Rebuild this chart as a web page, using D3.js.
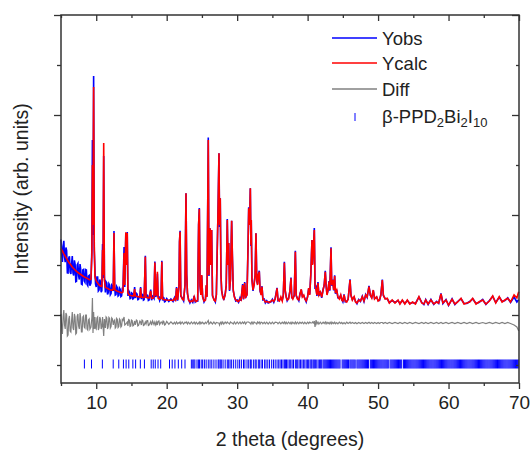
<!DOCTYPE html>
<html>
<head>
<meta charset="utf-8">
<script src="https://cdn.jsdelivr.net/npm/d3@7"></script>
<style>
  body { margin: 0; background: #fff; }
  text { font-family: Arial, "Liberation Sans", sans-serif; fill: #222; }
</style>
</head>
<body>
<div id="chart"></div>
<script>
// Rietveld profile, rows are [2theta, Ycalc, Yobs - Ycalc]
const lowAngle = [
  [5.0, 665, 90], [5.1, 652, -40], [5.2, 640, -110], [5.3, 626, 60], [5.4, 612, 130],
  [5.5, 600, -20], [5.6, 588, -60], [5.7, 575, 100], [5.8, 563, 80], [5.9, 551, -130],
  [6.0, 540, -120], [6.1, 529, 40], [6.2, 518, 70], [6.3, 509, -80], [6.4, 500, -90],
  [6.5, 490, 20], [6.6, 480, 110], [6.7, 472, -50], [6.8, 465, -70], [6.9, 457, 90],
  [7.0, 450, 60], [7.1, 443, -110], [7.2, 437, -100], [7.3, 431, 70], [7.4, 425, 90],
  [7.5, 420, -30], [7.6, 415, -60], [7.7, 410, 100], [7.8, 405, 50], [7.9, 400, -90],
  [8.0, 395, -90], [8.1, 390, 60], [8.2, 385, 70], [8.3, 381, -40], [8.4, 378, -50],
  [8.5, 374, 80], [8.6, 370, 80], [8.7, 366, -60], [8.8, 363, -70], [8.9, 359, 30],
  [9.0, 355, 40], [9.1, 352, -60], [9.25, 360, -40], [9.38, 600, 50], [9.46, 1500, 250],
  [9.54, 900, -100], [9.63, 2280, 110], [9.72, 700, -60], [9.82, 380, 60], [9.9, 360, -50],
  [10.0, 340, -60], [10.1, 330, 50], [10.2, 320, 60], [10.3, 310, -70], [10.4, 300, -50],
  [10.5, 295, 60], [10.6, 290, 40], [10.7, 287, -60], [10.8, 285, -40], [10.9, 650, 60],
  [10.97, 400, -30], [11.06, 1720, -130], [11.16, 350, 40], [11.3, 275, -50], [11.4, 272, 60],
  [11.5, 270, 50], [11.6, 266, -60], [11.7, 262, -40], [11.8, 258, 55], [11.9, 255, 45],
  [12.0, 252, -50], [12.1, 250, -35], [12.2, 249, 50], [12.3, 248, 40], [12.42, 260, -20],
  [12.52, 820, 20], [12.62, 255, 30], [12.7, 250, -50], [12.8, 245, -40], [12.9, 241, 45],
  [13.0, 238, 35], [13.1, 235, -45], [13.2, 232, -35], [13.3, 230, 40], [13.4, 228, 30],
  [13.5, 225, -40], [13.6, 222, -30], [13.7, 226, 35], [13.8, 230, 25], [13.95, 620, 60],
  [14.05, 300, -20], [14.2, 827, -10], [14.3, 500, 0], [14.4, 820, 10], [14.5, 220, -30],
  [14.6, 210, 35], [14.7, 200, 30], [14.8, 198, -35], [14.9, 195, -30], [15.0, 193, 30],
  [15.1, 192, 25], [15.2, 191, -30], [15.3, 190, -25], [15.45, 260, 20], [15.55, 190, -20],
  [15.7, 187, 30], [15.8, 185, 25], [15.9, 184, -30], [16.0, 182, -25], [16.2, 178, 20],
  [16.3, 270, 10], [16.4, 178, -20], [16.5, 177, 30], [16.6, 176, 25], [16.7, 175, -25],
  [16.8, 175, -20], [16.97, 583, 10], [17.07, 180, -10], [17.2, 174, 25], [17.3, 172, 25],
  [17.4, 171, -25], [17.5, 170, -20], [17.73, 240, 15], [17.85, 168, -20], [18.0, 166, 20],
  [18.2, 180, -15], [18.32, 525, 10], [18.45, 200, -20], [18.58, 200, 10], [18.68, 433, -20],
  [18.78, 170, 15], [18.9, 163, 20], [19.0, 160, -15], [19.2, 170, 10], [19.31, 533, 10],
  [19.42, 160, -15], [19.5, 157, 20], [19.6, 155, 15], [19.7, 153, -20], [19.8, 152, -15]
];

const midAngle = [
  [20.0, 150, 15], [20.3, 148, -12], [20.6, 148, 12], [20.9, 145, -10], [21.1, 165, 8],
  [21.25, 150, -10], [21.4, 270, 10], [21.55, 150, -8], [21.75, 300, 5], [21.82, 733, 0],
  [21.9, 833, 10], [22.0, 200, -10], [22.2, 160, 10], [22.4, 150, -10], [22.6, 300, 8],
  [22.74, 1217, 0], [22.84, 400, 10], [22.95, 220, -10], [23.1, 150, 8], [23.3, 130, -10],
  [23.5, 140, 10], [23.7, 135, -8], [23.9, 180, 10], [24.05, 140, -10], [24.2, 135, 8],
  [24.4, 150, -10], [24.53, 900, 0], [24.63, 1060, 10], [24.73, 300, -10], [24.85, 200, 8],
  [24.97, 400, -5], [25.1, 180, 8], [25.3, 140, -10], [25.5, 150, 8], [25.62, 300, -5],
  [25.72, 180, 5], [25.9, 1750, 25], [26.0, 400, -10], [26.15, 867, 0], [26.25, 500, 10],
  [26.38, 850, 0], [26.5, 200, -10], [26.7, 150, 10], [26.9, 140, -10], [27.05, 200, 5],
  [27.3, 1100, 0], [27.42, 1617, 0], [27.5, 900, -20], [27.6, 1167, 0], [27.7, 400, 10],
  [27.8, 250, -10], [27.95, 180, 10], [28.1, 160, -10], [28.3, 200, 10], [28.45, 300, -5],
  [28.6, 950, 10], [28.7, 500, 0], [28.8, 720, 0], [28.92, 250, -10], [29.05, 350, 10],
  [29.22, 943, 0], [29.32, 600, 0], [29.45, 250, -10], [29.6, 180, 10], [29.8, 150, -10],
  [30.0, 140, 10], [30.2, 135, -8], [30.4, 160, 10], [30.55, 150, -8], [30.78, 300, 10],
  [30.9, 160, -5], [31.07, 320, 10], [31.2, 180, -10], [31.4, 200, 10], [31.55, 700, 10],
  [31.64, 1067, 10], [31.76, 900, 0], [31.87, 1267, 0], [31.95, 700, -10], [32.0, 950, 0],
  [32.1, 350, 10], [32.25, 250, -10], [32.4, 300, 10], [32.55, 400, 0], [32.67, 817, 0],
  [32.78, 350, -10], [32.9, 300, 10], [33.0, 400, 0], [33.14, 433, 10], [33.25, 250, -10],
  [33.4, 200, 8], [33.53, 283, 5], [33.65, 160, -8], [33.85, 150, 8], [34.0, 130, -8],
  [34.2, 135, 8], [34.4, 130, -10], [34.6, 125, 8], [34.8, 140, -8], [35.0, 150, 8],
  [35.2, 135, -8], [35.4, 160, 8], [35.66, 267, 5], [35.8, 150, -8], [36.0, 140, 8],
  [36.2, 180, -8], [36.4, 140, 8], [36.55, 200, -5], [36.7, 523, 10], [36.82, 250, -8],
  [36.95, 180, 8], [37.1, 150, -8], [37.3, 160, 8], [37.5, 250, -8], [37.64, 367, 8],
  [37.75, 180, -8], [37.9, 160, 8], [38.1, 200, -8], [38.26, 633, 10], [38.38, 200, -8],
  [38.55, 160, 8], [38.75, 150, -8], [38.9, 200, 8], [39.1, 257, -5], [39.25, 180, 8],
  [39.45, 200, -8], [39.6, 160, 8], [39.8, 140, -8], [40.0, 180, 8], [40.15, 270, -5],
  [40.3, 200, 8], [40.45, 400, 0], [40.62, 750, 0], [40.7, 500, 10], [40.84, 700, 0],
  [40.95, 850, 20], [41.05, 300, -40], [41.2, 250, 30], [41.32, 200, -10], [41.47, 320, 10],
  [41.6, 200, -10], [41.8, 230, 8], [42.0, 180, -8], [42.2, 250, 8], [42.35, 300, -5],
  [42.51, 433, 10], [42.62, 300, -8], [42.75, 200, 8], [42.9, 250, -5], [43.04, 333, 5],
  [43.15, 250, -8], [43.32, 667, 10], [43.42, 300, -8], [43.56, 350, 5], [43.7, 250, -5]
];

const highAngle = [
  [43.84, 390, 8], [43.95, 220, -8], [44.13, 250, 5], [44.3, 180, -8], [44.5, 160, 8],
  [44.7, 200, -5], [44.85, 150, 5], [45.0, 140, -8], [45.17, 200, 5], [45.35, 140, -8],
  [45.55, 130, 8], [45.75, 160, -5], [46.02, 350, 8], [46.15, 200, -5], [46.35, 150, 5],
  [46.6, 183, -5], [46.8, 130, 5], [47.0, 120, -8], [47.25, 150, 5], [47.5, 140, -5],
  [47.76, 183, 5], [48.0, 140, -5], [48.24, 200, 5], [48.45, 180, -5], [48.71, 283, 8],
  [48.9, 200, -5], [49.1, 170, 5], [49.32, 250, -5], [49.5, 160, 5], [49.8, 183, -5],
  [50.0, 140, 5], [50.2, 150, -5], [50.4, 200, 5], [50.6, 350, 5], [50.75, 200, -5],
  [51.0, 160, 5], [51.3, 167, -5], [51.6, 120, 5], [52.0, 150, -5], [52.4, 120, 5],
  [52.83, 150, -5], [53.1, 110, 5], [53.44, 150, -5], [53.8, 110, 5], [54.15, 150, -5],
  [54.5, 110, 5], [54.9, 130, -5], [55.3, 110, 5], [55.8, 183, -5], [56.2, 120, 5],
  [56.5, 110, -5], [56.76, 150, 5], [57.1, 110, -5], [57.5, 150, 5], [57.9, 110, -5],
  [58.3, 130, 5], [58.6, 120, -5], [58.93, 210, 5], [59.2, 120, -5], [59.64, 150, 5],
  [60.0, 100, -5], [60.5, 157, 5], [60.9, 110, -5], [61.3, 130, 5], [61.77, 167, -5],
  [62.2, 110, 5], [62.6, 120, -5], [63.0, 130, 5], [63.43, 167, -5], [63.9, 110, 5],
  [64.3, 130, -5], [64.85, 150, 5], [65.3, 110, -5], [65.8, 140, 5], [66.27, 190, -5],
  [66.7, 120, 5], [67.2, 183, -5], [67.6, 130, 5], [68.0, 150, -5], [68.4, 167, 5],
  [68.8, 130, -5], [69.3, 200, -20], [69.7, 170, -40], [69.96, 233, -80]
];

// Bragg reflection positions (2theta)
const braggLow = [8.32, 9.33, 10.87, 12.41, 13.2, 13.86, 14.24, 14.62, 15.2, 15.59, 16.26, 16.84,
  17.8, 18.09, 18.38, 18.77, 19.15, 20.4, 20.78, 21.17, 21.65, 22.13, 22.6];
const braggMid = [23.5, 23.7, 23.85, 24.0, 24.3, 24.5, 24.65, 24.9, 25.1, 25.35, 25.6, 25.9, 26.15,
  26.4, 26.7, 27.0, 27.3, 27.42, 27.6, 27.75, 28.0, 28.3, 28.6, 28.8, 29.0, 29.22, 29.5, 29.8, 30.1,
  30.35, 30.6, 30.9, 31.1, 31.4, 31.64, 31.87, 32.0, 32.3, 32.55, 32.7, 33.0, 33.15, 33.4, 33.6, 33.9,
  34.1, 34.35, 34.6, 34.9, 35.15, 35.4, 35.66, 35.9, 36.1, 36.3, 36.5, 36.7, 36.85, 37.0, 37.2, 37.4,
  37.6, 37.8, 38.0, 38.26, 38.45, 38.6, 38.8, 39.0, 39.2, 39.4, 39.6, 39.8, 40.0, 40.15, 40.35, 40.5,
  40.62, 40.8, 40.95, 41.1, 41.3, 41.5, 41.7, 41.85, 42.0, 42.2, 42.35, 42.5, 42.65, 42.8, 42.95, 43.1,
  43.25, 43.4, 43.55];
const braggHigh = [43.7, 43.85, 44.0, 44.15, 44.3, 44.45, 44.6, 44.9, 45.05, 45.2, 45.35, 45.5, 45.65,
  45.8, 46.0, 46.15, 46.3, 46.45, 46.6, 46.75, 47.0, 47.15, 47.3, 47.45, 47.6, 47.75, 47.9, 48.05, 48.2,
  48.35, 48.5, 48.65, 48.9, 49.05, 49.2, 49.35, 49.5, 49.65, 49.8, 49.95, 50.1, 50.25, 50.4, 50.55, 50.7,
  50.85, 51.0, 51.15, 51.3, 51.45, 51.7, 51.85, 52.0, 52.15, 52.3, 52.45, 52.6, 52.75, 52.9, 53.05, 53.2,
  53.35, 53.6, 53.75, 53.9, 54.05, 54.2, 54.35, 54.5, 54.65, 54.8, 54.95, 55.1, 55.25, 55.4, 55.55, 55.7,
  55.85, 56.0, 56.15, 56.3, 56.45, 56.6, 56.75, 56.9, 57.05, 57.2, 57.35, 57.5, 57.65, 57.8, 57.95, 58.1,
  58.25, 58.4, 58.55, 58.7, 58.85, 59.0, 59.15, 59.3, 59.45, 59.6, 59.75, 59.9, 60.05, 60.2, 60.35, 60.5,
  60.65, 60.8, 60.95, 61.1, 61.25, 61.4, 61.55, 61.7, 61.85, 62.0, 62.15, 62.3, 62.45, 62.6, 62.75, 62.9,
  63.05, 63.2, 63.35, 63.5, 63.65, 63.8, 63.95, 64.1, 64.25, 64.4, 64.55, 64.7, 64.85, 65.0, 65.15, 65.3,
  65.45, 65.6, 65.75, 65.9, 66.05, 66.2, 66.35, 66.5, 66.65, 66.8, 66.95, 67.1, 67.25, 67.4, 67.55, 67.7,
  67.85, 68.0, 68.15, 68.3, 68.45, 68.6, 68.75, 68.9, 69.05, 69.2, 69.35, 69.5, 69.65, 69.8, 69.95];

const xMajor = [10, 20, 30, 40, 50, 60, 70];
const xMinor = [5, 15, 25, 35, 45, 55, 65];
const yMajor = [0, 1000, 2000, 3000];
const yMinor = [-500, 500, 1500, 2500];

const diffOffset = -80;   // baseline for the difference curve
const braggLevel = -490;  // level of the reflection markers

const width = 532, height = 452;
const margin = { top: 15, right: 13, bottom: 69, left: 61 };

const svg = d3.select("#chart").append("svg")
  .attr("width", width).attr("height", height);

const x = d3.scaleLinear().domain([5, 70]).range([margin.left, width - margin.right]);
const y = d3.scaleLinear().domain([-680, 3000]).range([height - margin.bottom, margin.top]);

const profile = lowAngle.concat(midAngle, highAngle);
const bragg = braggLow.concat(braggMid, braggHigh);

const plot = svg.append("g");

// Diff
plot.append("path")
  .datum(profile)
  .attr("fill", "none")
  .attr("stroke", "#808080")
  .attr("stroke-width", 1.2)
  .attr("d", d3.line().x(d => x(d[0])).y(d => y(d[2] + diffOffset)));

// Yobs
plot.append("path")
  .datum(profile)
  .attr("fill", "none")
  .attr("stroke", "#0000ff")
  .attr("stroke-width", 1.6)
  .attr("d", d3.line().x(d => x(d[0])).y(d => y(d[1] + d[2])));

// Ycalc
plot.append("path")
  .datum(profile)
  .attr("fill", "none")
  .attr("stroke", "#ff0000")
  .attr("stroke-width", 1.6)
  .attr("d", d3.line().x(d => x(d[0])).y(d => y(d[1])));

// Bragg markers
plot.selectAll(".bragg")
  .data(bragg)
  .enter()
  .append("line")
  .attr("class", "bragg")
  .attr("x1", d => x(d)).attr("x2", d => x(d))
  .attr("y1", y(braggLevel) - 4.5).attr("y2", y(braggLevel) + 4.5)
  .attr("stroke", "#0000ff")
  .attr("stroke-width", 1);

// Axes
function styleAxis(g) {
  g.select(".domain").remove();
  g.selectAll("line").attr("stroke", "#333").attr("stroke-width", 1.3);
  g.selectAll("text").attr("font-size", 19).attr("fill", "#222");
}

const bottomY = height - margin.bottom;
svg.append("g").attr("transform", `translate(0,${bottomY})`)
  .call(d3.axisBottom(x).tickValues(xMajor).tickSize(6).tickPadding(4).tickFormat(d3.format("d")))
  .call(styleAxis)
  .call(g => g.selectAll("text").attr("dy", "0.82em"));
svg.append("g").attr("transform", `translate(0,${bottomY})`)
  .call(d3.axisBottom(x).tickValues(xMinor).tickSize(3).tickFormat(""))
  .call(styleAxis);
svg.append("g").attr("transform", `translate(0,${margin.top})`)
  .call(d3.axisTop(x).tickValues(xMajor).tickSize(-6).tickFormat(""))
  .call(styleAxis);
svg.append("g").attr("transform", `translate(0,${margin.top})`)
  .call(d3.axisTop(x).tickValues(xMinor).tickSize(-3).tickFormat(""))
  .call(styleAxis);

svg.append("g").attr("transform", `translate(${margin.left},0)`)
  .call(d3.axisLeft(y).tickValues(yMajor).tickSize(7).tickFormat(""))
  .call(styleAxis);
svg.append("g").attr("transform", `translate(${margin.left},0)`)
  .call(d3.axisLeft(y).tickValues(yMinor).tickSize(4).tickFormat(""))
  .call(styleAxis);
svg.append("g").attr("transform", `translate(${width - margin.right},0)`)
  .call(d3.axisRight(y).tickValues(yMajor).tickSize(-7).tickFormat(""))
  .call(styleAxis);
svg.append("g").attr("transform", `translate(${width - margin.right},0)`)
  .call(d3.axisRight(y).tickValues(yMinor).tickSize(-3).tickFormat(""))
  .call(styleAxis);

// Frame
svg.append("rect")
  .attr("x", margin.left).attr("y", margin.top)
  .attr("width", width - margin.left - margin.right)
  .attr("height", height - margin.top - margin.bottom)
  .attr("fill", "none").attr("stroke", "#333").attr("stroke-width", 1.5);

// Axis titles
svg.append("text")
  .attr("x", (margin.left + width - margin.right) / 2)
  .attr("y", 446)
  .attr("text-anchor", "middle")
  .attr("font-size", 19.5)
  .text("2 theta (degrees)");

svg.append("text")
  .attr("transform", "translate(28,189) rotate(-90)")
  .attr("text-anchor", "middle")
  .attr("font-size", 19.5)
  .text("Intensity (arb. units)");

// Legend
const legendItems = [
  { label: "Yobs", color: "#0000ff", y: 38 },
  { label: "Ycalc", color: "#ff0000", y: 63 },
  { label: "Diff", color: "#808080", y: 89 }
];
const legend = svg.append("g");
legendItems.forEach(item => {
  legend.append("line")
    .attr("x1", 332).attr("x2", 377)
    .attr("y1", item.y).attr("y2", item.y)
    .attr("stroke", item.color).attr("stroke-width", 1.3);
  legend.append("text")
    .attr("x", 382).attr("y", item.y + 7)
    .attr("font-size", 18.5)
    .text(item.label);
});
legend.append("line")
  .attr("x1", 355).attr("x2", 355)
  .attr("y1", 113).attr("y2", 121)
  .attr("stroke", "#0000ff").attr("stroke-width", 1);
const phase = legend.append("text")
  .attr("x", 382).attr("y", 123)
  .attr("font-size", 18.5);
phase.append("tspan").text("β-PPD");
phase.append("tspan").attr("font-size", 13).attr("dy", 4).text("2");
phase.append("tspan").attr("dy", -4).text("Bi");
phase.append("tspan").attr("font-size", 13).attr("dy", 4).text("2");
phase.append("tspan").attr("dy", -4).text("I");
phase.append("tspan").attr("font-size", 13).attr("dy", 4).text("10");
</script>
</body>
</html>
